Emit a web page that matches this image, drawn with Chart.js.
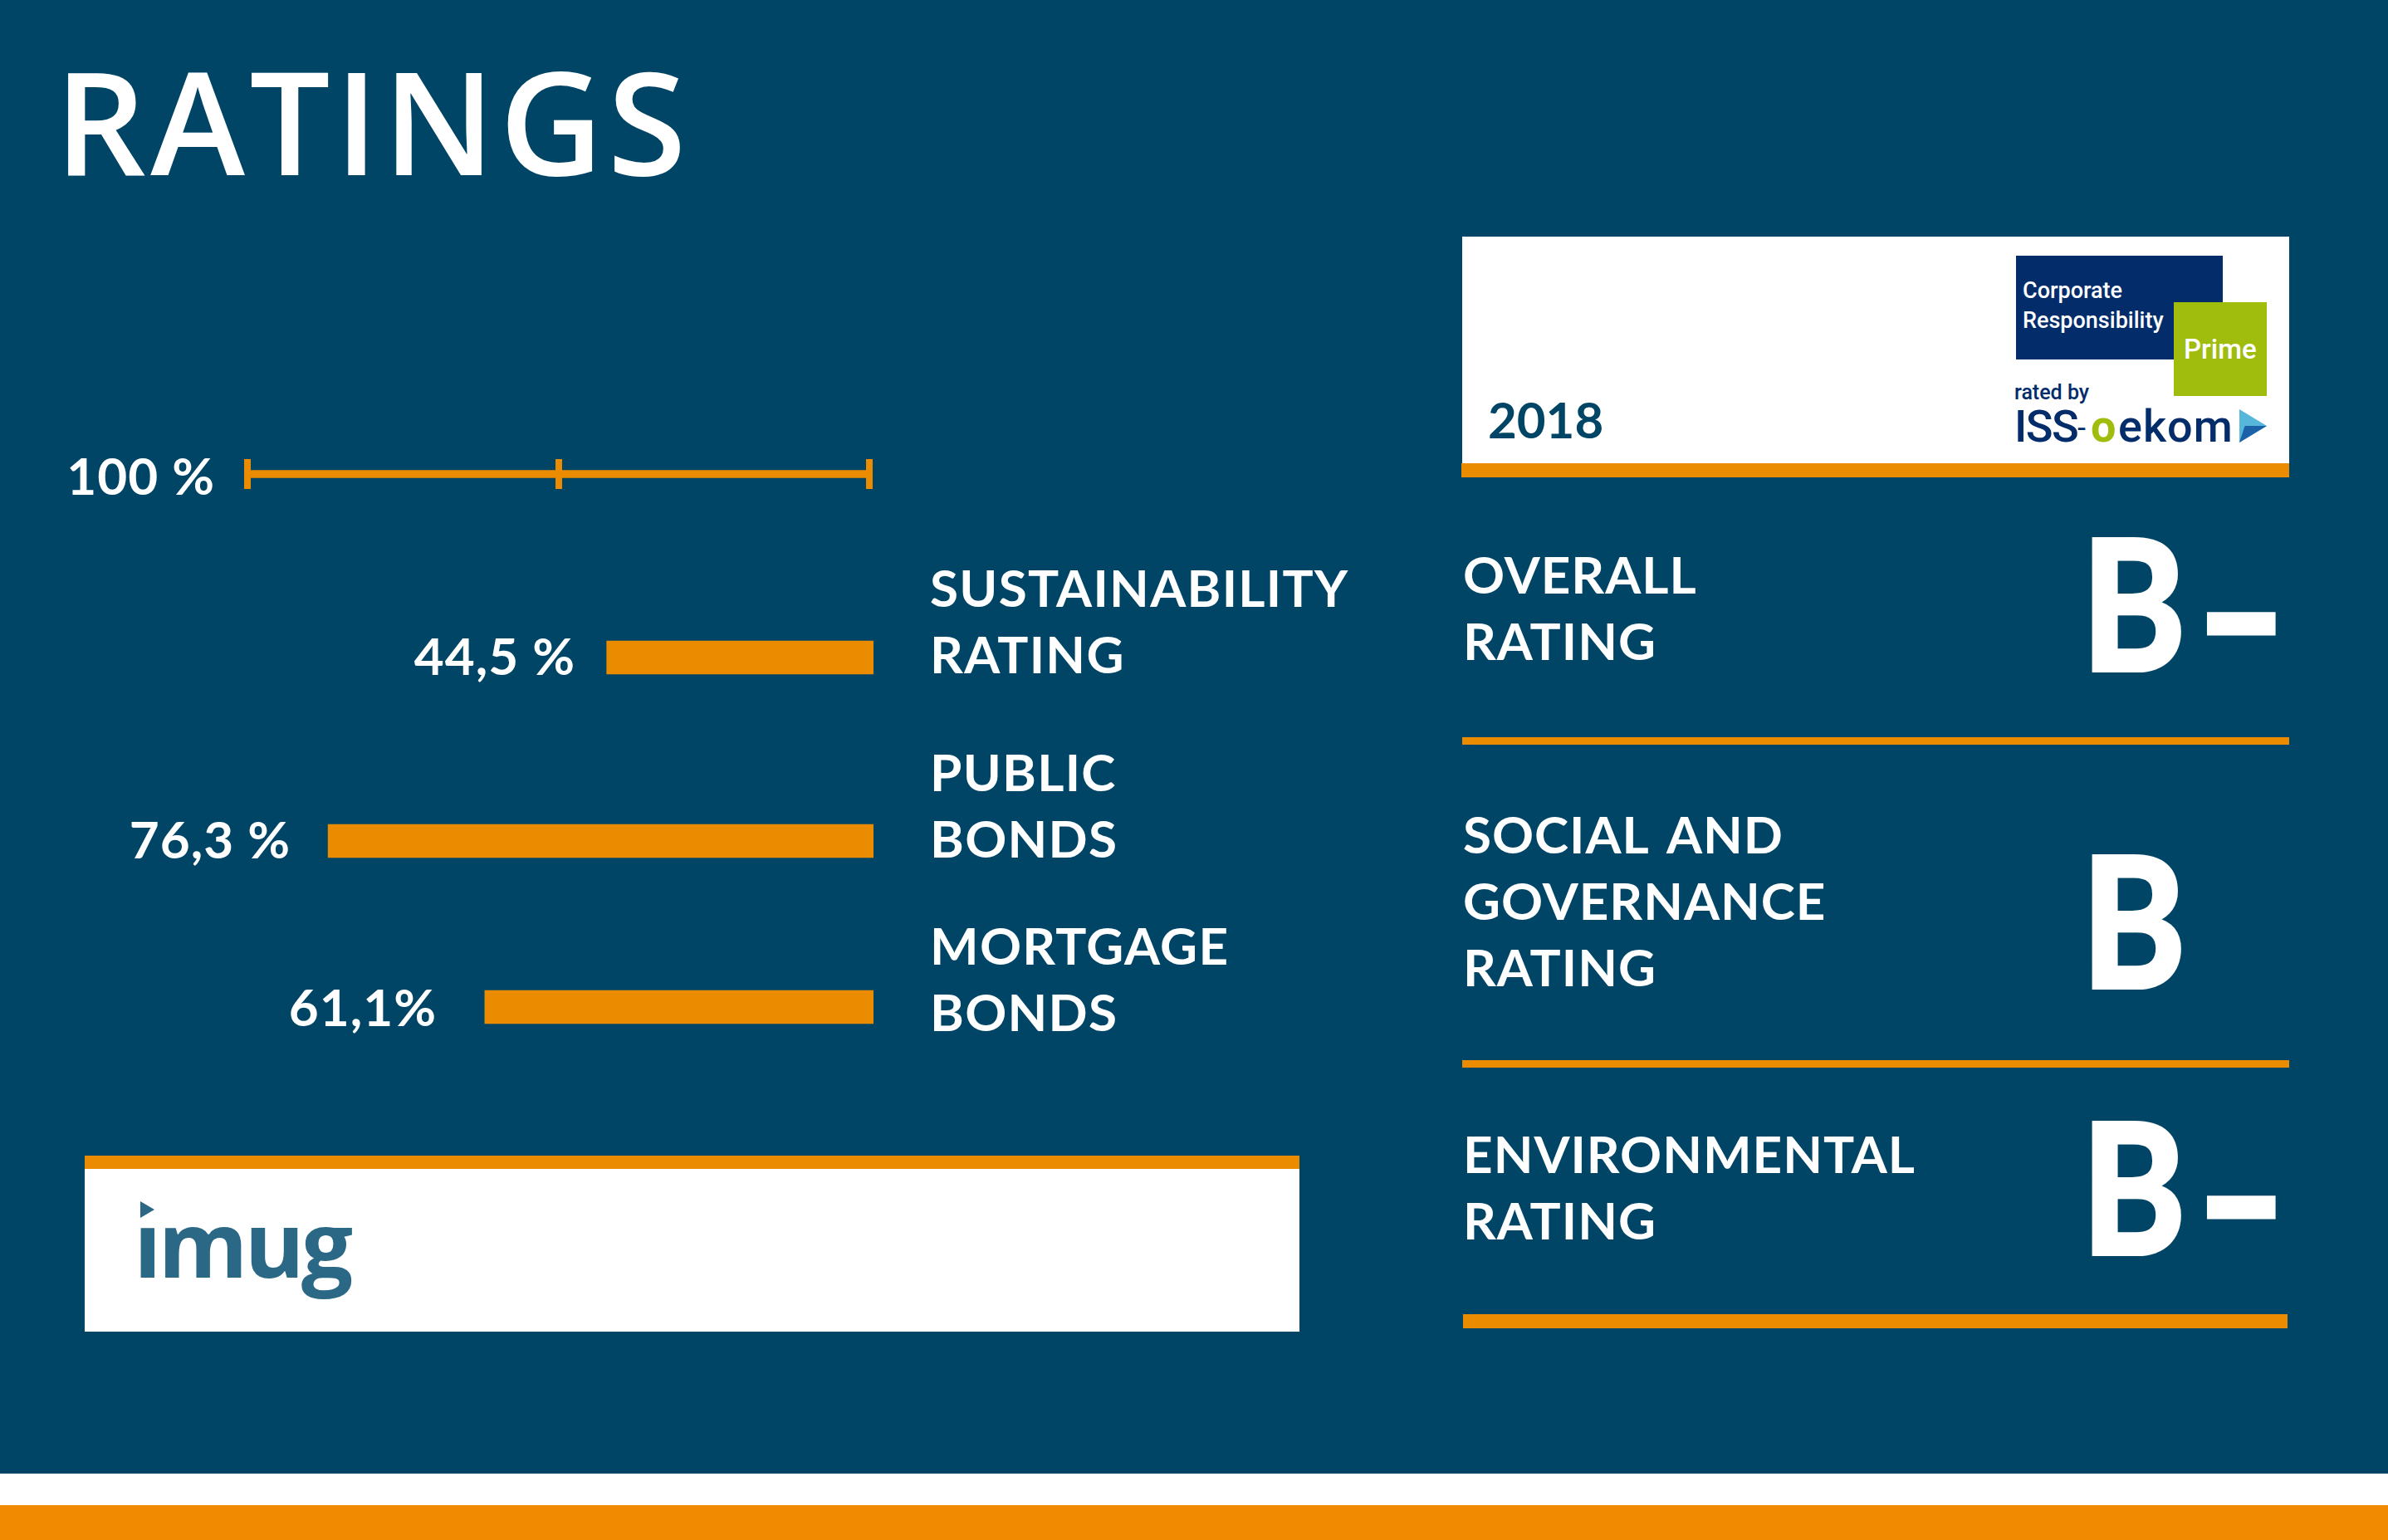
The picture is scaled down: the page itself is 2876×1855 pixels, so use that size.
<!DOCTYPE html>
<html><head><meta charset="utf-8">
<script src="https://cdn.jsdelivr.net/npm/chart.js@4"></script>
<style>
html,body{margin:0;padding:0;background:#004566;}
#page{position:relative;width:2876px;height:1855px;overflow:hidden;background:#004566;font-family:Lato,sans-serif;color:#fff;}
#page div,#page canvas{position:absolute;}
.t{white-space:pre;}
.lato{font-family:Lato,sans-serif;}
.open{font-family:"Open Sans",sans-serif;}
.rob{font-family:Roboto,sans-serif;}
.org{background:#EA8B00;}
.wht{background:#fff;}
</style></head><body>
<div id="page"></div>
<script>
// Category rows and what is printed next to the bars
const rowNames = [["SUSTAINABILITY","RATING"],["PUBLIC","BONDS"],["MORTGAGE","BONDS"]];
const printedValues = ["44,5 %","76,3 %","61,1%"];
// Bar lengths as measured against the 100 % ruler in the picture (the graphic is not drawn to scale with its printed numbers)
const barLengths = [42.9,87.7,62.5];
const rulerLabel = "100 %";
const rulerValue = 100;
const rulerTicks = [0,50,100];
const title = "RATINGS";
const ratingNames = [["OVERALL","RATING"],["SOCIAL AND","GOVERNANCE","RATING"],["ENVIRONMENTAL","RATING"]];
const ratingGrades = ["B","B","B"];
const ratingSuffix = ["–","","–"];
const ratingYear = "2018";

const ORANGE="#EA8B00", BG="#004566", NAVY="#032C6B", LIME="#A0BD0E";
const page=document.getElementById('page');
function box(cls,x,y,w,h,bg){const d=document.createElement('div');d.className=cls||'';d.style.cssText+=`left:${x}px;top:${y}px;width:${w}px;height:${h}px;`+(bg?`background:${bg};`:'');page.appendChild(d);return d;}
// text placed by its baseline
function bl(s,x,base,size,opts={}){
  const d=document.createElement('div');d.className='t '+(opts.cls||'lato');
  const sp=document.createElement('i');sp.style.cssText='display:inline-block;width:0;height:0;vertical-align:baseline;';
  d.appendChild(sp);d.appendChild(document.createTextNode(s));
  d.style.cssText+=`left:${x}px;top:0;font-size:${size}px;color:${opts.color||'#fff'};letter-spacing:${opts.ls||0}px;word-spacing:${opts.ws||0}px;font-weight:${opts.w||700};`;
  page.appendChild(d);
  const by=sp.getBoundingClientRect().bottom-page.getBoundingClientRect().top;
  d.style.top=(base-by)+'px';
  if(opts.tf){d.style.transform=opts.tf;d.style.transformOrigin=opts.to||'0 100%';}
  if(opts.stroke){d.style.webkitTextStroke=opts.stroke+'px currentColor';}
  return d;
}

// ---- static furniture
bl(title,66,211,172,{cls:'open',w:600,ls:5.5});
box('wht',0,1775,2876,38);
box('',0,1813,2876,42,'#F18A00');

// certificate panel
box('wht',1761,285,996,273);
box('org',1760,558,997,17);
bl(ratingYear,1792,528,60,{color:BG});
box('',2428,308,249,125,NAVY);
box('',2618,364,112,113,LIME);
bl("Corporate",2436,359,27,{cls:'rob',w:500});
bl("Responsibility",2436,395,27,{cls:'rob',w:500});
bl("Prime",2630,432,33,{cls:'rob',w:500});
bl("rated by",2426,481,25,{cls:'rob',w:500,color:NAVY});
bl("ISS",2426,532,54,{cls:'rob',w:500,color:NAVY,ls:-1.5});
bl("-",2502,528,36,{cls:'rob',w:400,color:NAVY});
bl("o",2518,532,54,{cls:'rob',w:700,color:LIME});
bl("ekom",2551,532,54,{cls:'rob',w:500,color:NAVY,ls:1});
const tri1=box('',2697,493,33,40,'#56B7DA');tri1.style.clipPath='polygon(0 0,100% 50%,0 100%)';
const tri2=box('',2697,513,33,20,'#1A61A8');tri2.style.clipPath='polygon(0 100%,100% 0,20% 0)';

// imug panel
box('wht',102,1392,1463,212);
box('org',102,1392,1463,16);
bl("imug",161,1539,110,{cls:'open',w:700,color:'#2B6886',ls:-4});
box('wht',155,1440,45,34);
const tri=box('',169,1447,17,20,'#2B6886');tri.style.clipPath='polygon(0 0,100% 50%,0 100%)';

// rating panel
box('org',1761,888,996,9);
box('org',1761,1277,996,9);
box('org',1762,1583,993,17);
const firstBaselines=[[715,795],[1028,1108,1188],[1413,1493]];
const gradeBaselines=[807,1189,1510];
ratingNames.forEach((lines,i)=>{
  lines.forEach((l,j)=>bl(l,1762,firstBaselines[i][j],62,{ls:1,ws:8}));
  bl(ratingGrades[i],2507,gradeBaselines[i],216,{tf:'scaleX(0.88)',stroke:6});
  if(ratingSuffix[i]) bl(ratingSuffix[i],2650,gradeBaselines[i]-9,170,{tf:'scale(1.2,1.9)',to:'50% 55%'});
});

// ---- charts, one per row
const tickFont={family:'Lato,sans-serif',weight:'700',size:62,lineHeight:'80px'};
const valueFont='700 62px Lato,sans-serif';
function mk(y,h){const c=document.createElement('canvas');c.style.left='0px';c.style.top=y+'px';c.style.width='2876px';c.style.height=h+'px';c.width=2876;c.height=h;page.appendChild(c);return c;}
Chart.defaults.animation=false;
Chart.defaults.devicePixelRatio=1;

const valueLabel={id:'valueLabel',
  beforeDraw(chart){chart.ctx.letterSpacing='1.3px';},
  afterDatasetsDraw(chart,a,o){
    const ctx=chart.ctx;
    ctx.save();ctx.font=valueFont;ctx.fillStyle='#fff';ctx.letterSpacing='1px';ctx.textAlign='right';ctx.textBaseline='alphabetic';
    ctx.fillText(o.text,o.right,o.baseline);
    ctx.restore();
  }};

function rowChart(canvasTop,height,name,value,opt){
  return new Chart(mk(canvasTop,height),{
    type:'bar',
    data:{labels:[name],datasets:[{data:[value],backgroundColor:ORANGE,barThickness:opt.thick,borderWidth:0}]},
    options:{indexAxis:'y',responsive:false,maintainAspectRatio:false,
      layout:{padding:{left:opt.left,top:opt.padV||0,bottom:opt.padV||0,right:opt.padRight||0}},
      plugins:{legend:{display:false},tooltip:{enabled:false},valueLabel:{text:opt.label,right:opt.labelRight,baseline:opt.baseline}},
      scales:{x:opt.x,y:opt.y}},
    plugins:[valueLabel]});
}
const hiddenValueAxis=()=>({type:'linear',reverse:true,min:0,max:100,position:'bottom',
  grid:{display:false,drawTicks:false},border:{display:false},ticks:{display:false}});
// canvases are tall because two-line tick labels reserve space above and below the plot area
const rowHeight=480, rowCentres=[792,1013,1213], labelRights=[693,350,526], labelOffsets=[-41,-40,-31], baseOffsets=[21,21,23];
barLengths.forEach((v,i)=>{
  rowChart(rowCentres[i]-rowHeight/2,rowHeight,rowNames[i],v,{
    thick:40,left:303,label:printedValues[i],labelRight:labelRights[i],baseline:rowHeight/2+baseOffsets[i],
    x:hiddenValueAxis(),
    y:{type:'category',position:'right',
      afterFit(s){s.width=2876-1052;},
      grid:{display:false,drawTicks:false},border:{display:false},
      ticks:{color:'#fff',font:tickFont,padding:68,labelOffset:labelOffsets[i],crossAlign:'near'}}
  });
});
// ruler: 0–100 % with three tick marks
rowChart(571-60,120,[""],rulerValue,{
  thick:9,left:298,padRight:2876-1047,padV:42,label:rulerLabel,labelRight:259,baseline:85,
  x:{type:'linear',reverse:true,min:0,max:100,position:'bottom',
     afterBuildTicks(s){s.ticks=rulerTicks.map(v=>({value:v}));},
     grid:{color:ORANGE,lineWidth:8,drawTicks:false},border:{display:false},ticks:{display:false}},
  y:{type:'category',display:false}
});
</script>
</body></html>
